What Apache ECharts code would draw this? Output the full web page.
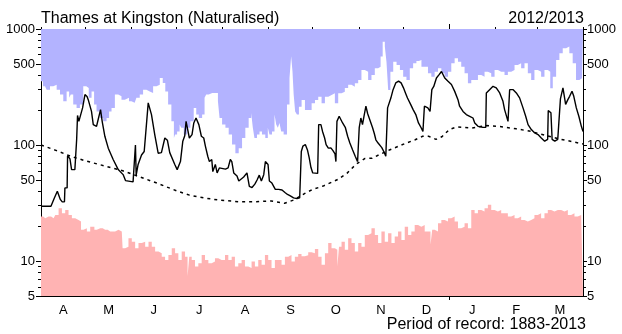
<!DOCTYPE html>
<html>
<head>
<meta charset="utf-8">
<title>Thames at Kingston (Naturalised) 2012/2013</title>
<script src="https://cdn.jsdelivr.net/npm/echarts@6/dist/echarts.min.js"></script>
<style>
  html, body { margin: 0; padding: 0; background: #fff; }
  #chart { width: 622px; height: 334px; }
</style>
</head>
<body>
<div id="chart"></div>
<script>
// Water year April 2012 - March 2013, x = day of the water year (0 = 1 April)
const monthLetters = ['A', 'M', 'J', 'J', 'A', 'S', 'O', 'N', 'D', 'J', 'F', 'M'];
const monthStarts = [0, 30, 61, 91, 122, 153, 183, 214, 244, 275, 306, 334, 365];
const yearStart = 275; // 1 January 2013

// Flow axis (m3/s, log scale)
const yMajor = [5, 10, 50, 100, 500, 1000];
const yMinor = [6, 7, 8, 9, 20, 30, 40, 60, 70, 80, 90, 200, 300, 400, 600, 700, 800, 900];

// Daily mean flow for 2012/2013 [day, m3/s]
const dailyFlow = [
  [0,29.7],[6.7,29.7],[9,35],[11,40],[13,34],[14.3,32.4],[15.8,32.4],[16.1,42.7],[17.6,42.7],[17.9,81],
  [19.5,76],[20.3,76],[20.6,61.4],[22.8,61.4],[24,111],[24.6,180],[25.5,160],[26.8,165],[28,209],[29.6,272],
  [31,262],[31.8,246],[34,195],[35.2,150],[37.4,145],[38.5,166],[40.1,202],[41.2,160],[43,119],[45.3,94],
  [48.6,75],[52,61.4],[55.3,55.6],[56.9,49.4],[62,48.1],[63.3,48.1],[63.6,100],[64.1,55],[65.4,68],[67.7,82],
  [69.5,88],[71,150],[72.2,231],[74.4,183],[76.6,123],[78.9,85],[81.1,86],[83.4,115],[85.1,110],[86.7,86],
  [90.1,68],[91.7,61.4],[93.9,72],[95.5,108],[96.8,120],[97.7,160],[98.8,166],[99.9,115],[101.7,123],[102.9,155],
  [104.4,171],[106.3,150],[108,119],[109.6,115],[110.7,98],[112.3,80],[113.4,72],[115,75],[115.7,59],[117.4,68],
  [118.6,57.5],[120.1,63.5],[124.2,62],[126,63.5],[127.5,75],[128.5,72],[129.8,57.5],[132,54],[133.2,49],[136.5,53],
  [138.7,57.5],[140.3,44],[142.1,43],[144,46],[145.5,50],[147,55],[148.4,49],[150,55.5],[151.1,72],[152.9,68],
  [153.8,49],[155.5,47],[157.8,41.5],[160,41.5],[162.3,41],[164.5,38.8],[166,37.5],[167.9,36.4],[170.1,35],[172.4,34.5],
  [174.2,35],[175,35],[175.3,88],[176.4,98],[178,101],[179.5,90],[180.6,78],[181.8,64],[183,57.5],[186.3,57],
  [186.8,57],[187,150],[188.5,150],[189.6,131],[191,115],[192,101],[193.5,94],[195.2,94.5],[196.5,90],[198,84],
  [198.6,72],[199,72],[199.3,160],[200.8,177],[202,171],[203.1,155],[205,141],[206.5,119],[208,104],[209.8,91],
  [211.6,80],[213.2,72],[213.8,72],[214.3,141],[215.4,171],[216.5,150],[217.5,177],[218.8,216],[220,186],[221,171],
  [223.3,141],[224.5,125],[225.5,111],[227,104],[229.5,95],[231,87],[232.2,80],[232.8,80],[233.4,209],[235.6,254],
  [237.1,300],[238.9,343],[240.8,355],[242.5,343],[244.1,311],[245.5,280],[246.8,254],[249,223],[250.6,202],[252.4,183],
  [254.2,155],[256,141],[257.2,131],[257.8,131],[258.2,216],[260.5,209],[262,195],[262.8,195],[263.2,300],[264.5,320],
  [266.3,378],[268.1,404],[269.7,430],[271.9,378],[274.1,354],[276.4,332],[278.6,290],[280.8,246],[281.9,216],[284.2,195],
  [286.4,183],[288.7,177],[290.9,171],[292.1,155],[294.3,145],[295.4,141],[297.6,142],[299.5,142],[299.9,281],[302.1,300],
  [304.4,321],[306.6,311],[308.9,281],[311.1,238],[312.2,202],[314.5,160],[315.2,160],[315.6,300],[318,300],[320.1,281],
  [322.3,255],[324.6,209],[326.4,177],[328,150],[330.2,136],[332.5,127],[334.7,123],[336.9,115],[339.2,108],[341.2,112],
  [341.6,198],[343.4,190],[344.2,112],[346,108],[348,112],[349.2,112],[349.8,250],[351.5,311],[353.3,224],[354.8,246],
  [356,263],[357.6,291],[358.8,263],[360.5,209],[362.2,177],[363.9,145],[365,131]
];

// Long-term daily mean flow [day, m3/s]
const meanFlow = [
  [0,100],[10,90],[20,80],[30,73],[43,66],[55,60],[65,54],[78,47],[92,40],[100,37],
  [110,35],[120,33.5],[133,32.5],[145,32.5],[155,33],[164,31.5],[170,33.5],[174,36],[178,38.5],[183,41.5],
  [190,44.3],[200,50.6],[206,57],[212,68],[218,76.5],[223,77],[229,84],[235,91],[246,104],[252,111],
  [257,119],[261,119],[266,112],[270,118],[275,136],[280,143],[290,140],[300,147],[310,144],[320,138],
  [330,131],[340,121],[350,112],[355,109],[365,102]
];

// Highest daily flow on record for each day [day, m3/s]
const maxFlow = [
  [0,355],[2.7,321],[4.9,300],[7.2,321],[9.4,331],[11.7,300],[13.9,272],[16.1,238],[18.4,290],[19.5,255],
  [20.6,272],[22.8,223],[25.1,209],[27.3,223],[29.6,321],[31.4,310],[32.9,255],[35.2,290],[36.3,223],[38.5,195],
  [40.8,171],[43,160],[45.3,171],[46.4,195],[48.6,209],[50.9,272],[53.1,263],[55.3,246],[57.6,255],[60.9,238],
  [63.1,231],[65.4,255],[67.6,272],[69.9,300],[72.1,290],[74.4,281],[76.6,321],[78.9,331],[81.1,378],[82.9,343],
  [84.5,290],[86.7,223],[88.9,160],[90.1,115],[90.5,123],[92.8,131],[93.9,150],[95,141],[97.3,123],[99.5,141],
  [101.7,160],[104,209],[105.1,183],[107.4,171],[109.6,183],[110.7,255],[111.8,272],[114.1,281],[116.5,281],[118.6,281],
  [119.7,238],[120.8,171],[123.1,150],[125.3,141],[127.5,123],[129.8,101],[132,85],[134.3,94],[136.5,115],[138.7,141],
  [141,171],[142.1,189],[143.2,141],[144.3,115],[146.6,123],[147.7,131],[149.9,123],[152.2,115],[153.3,141],[154.4,123],
  [156.7,131],[157.8,183],[159,150],[160,141],[161.2,155],[162.3,131],[164.5,123],[166.8,223],[167.9,378],[169,582],
  [169.7,432],[170.6,272],[171.7,195],[173,183],[174.4,214],[176.6,245],[178.9,200],[181.1,200],[183.4,229],[185.6,245],
  [187.8,261],[190.1,229],[192.3,261],[194.6,270],[196.8,279],[199,229],[201.3,279],[203.5,288],[205.7,310],[208,330],
  [210.2,318],[212.5,340],[214.7,364],[216.9,443],[219.2,429],[221.4,364],[223.7,402],[225.9,458],[228.1,473],[229.3,578],
  [230.9,778],[232.2,705],[233.1,523],[234.5,298],[236.1,429],[238.3,523],[240.6,490],[242.8,443],[245,388],[247.2,364],
  [249.5,458],[251.7,506],[253.9,530],[255.1,541],[257.3,473],[259.5,473],[261.7,415],[264,388],[266.2,429],[268.5,458],
  [270.7,415],[273,388],[275.2,429],[277.4,506],[279.7,559],[281.9,523],[284.1,473],[286.4,415],[288.6,340],[290.9,364],
  [293.1,364],[295.4,402],[297.6,388],[299.8,429],[302.1,415],[304.3,388],[306.6,443],[308.8,429],[311,429],[313.3,402],
  [315.5,429],[317.8,443],[320,490],[322.2,506],[324.5,458],[326.7,506],[329,415],[331.2,364],[333.4,443],[335.7,429],
  [337.9,388],[340.2,443],[342.4,429],[343.5,308],[345.8,388],[348,541],[350.2,617],[352.5,681],[354.7,705],[356.9,617],
  [359.2,506],[361.4,364],[363.7,376],[365,376]
];

// Lowest daily flow on record for each day [day, m3/s]
const minFlow = [
  [0,24.2],[2.9,23.4],[5.1,24.2],[8.5,23.4],[10.7,25],[13,28.5],[15.2,25.8],[17.4,27.6],[19.7,25],[21.9,23.4],
  [24.2,22.6],[26.4,21.9],[27.5,18.6],[29.8,19.2],[32,18],[34.3,19.8],[37.6,18.6],[39.9,19.2],[43.2,18.6],[46.6,18],
  [49.9,18],[52.2,18.6],[54.4,18],[55.5,12.9],[57.8,13.3],[60,15.7],[62.3,14.7],[64.5,12.9],[66.8,14.3],[69,14.7],
  [71.3,13.3],[73.5,14.7],[75.7,13.3],[78,12.1],[80.2,11.7],[82.4,10.9],[84.7,10.2],[86.9,11.3],[89.2,12.9],[91.4,11.7],
  [93.6,10.2],[95.9,12.1],[98.1,10.9],[99.3,7.4],[100.4,10.9],[102.6,10.2],[104.8,9],[107.1,9.6],[109.3,11.3],[111.6,10.2],
  [113.8,9.6],[116,9.9],[118.3,10.6],[120.5,10.2],[122.8,10.2],[125,11.3],[127.3,10.2],[129.5,10.9],[131.7,9],[134,9.6],
  [136.2,10.2],[138.5,9],[140.7,8.7],[142.9,9.9],[145.2,9],[147.4,10.2],[149.7,9.3],[151.9,11.3],[154.1,10.2],[156.4,8.7],
  [158.6,10.2],[160.9,10.2],[163.1,9.3],[165.4,10.9],[167.6,11.3],[169.8,9.9],[172.1,10.9],[174.3,11.5],[176.6,11],[178.8,11.2],
  [181.1,11.9],[183.3,11.7],[185.6,12.7],[187.8,10.9],[190.1,9.3],[192.3,11.7],[194.5,14.3],[196.8,12.9],[199,12.5],[200.1,9],
  [201.3,13.3],[203.5,14.7],[205.7,12.5],[208,15.7],[210.2,14.3],[212.5,12.1],[214.7,14.3],[216.9,13.3],[219.2,16.8],[221.4,17.4],
  [223.7,19.2],[225.9,16.8],[228.1,14.3],[230.4,18],[232.6,14.7],[234.9,17.4],[237.1,14.3],[239.3,16.3],[241.6,18],[243.8,15.2],
  [246.1,19.8],[248.3,16.8],[250.5,18],[252.8,20.5],[255,19.8],[257.3,20.5],[259.5,18],[261.7,18],[262.9,13.8],[264,18.6],
  [266.2,18],[268.5,21.2],[270.7,22.6],[273,21.9],[275.2,23.4],[277.4,24.2],[279.7,21.9],[281.9,19.2],[284.1,19.8],[286.4,21.2],
  [288.6,19.2],[290.9,27.6],[293.1,25.8],[295.4,27.6],[297.6,26.7],[299.8,28.5],[302.1,30.5],[304.3,27.6],[306.6,26.7],[308.8,27.6],
  [311,25.8],[313.3,25.8],[315.5,24.2],[317.8,25],[320,23.4],[322.2,24.2],[324.5,22.6],[326.7,21.9],[329,22.6],[331.2,23.4],
  [333.4,25],[335.7,25.8],[337.9,23.4],[340.2,25.8],[342.4,27.6],[344.7,26.7],[346.9,27.6],[349.2,27.6],[351.4,26.7],[353.7,27.6],
  [355.9,25],[358.1,25.8],[360.4,24.2],[362.6,25],[365,24.2]
];

const FONT = '"Liberation Sans", Arial, Helvetica, sans-serif';
const INK = '#000';

// label positions in the middle of each month
const monthMid = monthLetters.map((_, i) => (monthStarts[i] + monthStarts[i + 1]) / 2);
function monthLabel(v) {
  let best = 0;
  monthMid.forEach((m, i) => { if (Math.abs(m - v) < Math.abs(monthMid[best] - v)) best = i; });
  return monthLetters[best];
}
// plain numbers on the flow axis, no thousands separator
const flowLabel = (v) => String(Math.round(v));

const baseX = { type: 'value', min: 0, max: 365, splitLine: { show: false } };
const baseY = { type: 'log', logBase: 10, min: 5, max: 1000, splitLine: { show: false } };
const line = { color: INK, width: 1 };
const labelStyle = { color: INK, fontSize: 13, fontFamily: FONT };

const chart = echarts.init(document.getElementById('chart'));
chart.setOption({
  animation: false,
  backgroundColor: '#fff',
  grid: { left: 41, right: 39, top: 29, bottom: 38, containLabel: false },
  xAxis: [
    { ...baseX, position: 'bottom',
      axisLine: { show: true, onZero: false, lineStyle: line },
      axisTick: { show: true, inside: true, length: 3, customValues: monthStarts, lineStyle: line },
      axisLabel: { ...labelStyle, margin: 8, customValues: monthMid, formatter: monthLabel } },
    { ...baseX, position: 'top',
      axisLine: { show: true, onZero: false, lineStyle: line },
      axisTick: { show: true, inside: false, length: 2, customValues: monthStarts, lineStyle: line },
      axisLabel: { show: false } },
    { ...baseX, position: 'bottom',
      axisLine: { show: false, onZero: false },
      axisTick: { show: true, inside: false, length: 4, customValues: [yearStart], lineStyle: line },
      axisLabel: { show: false } },
    { ...baseX, position: 'top',
      axisLine: { show: false, onZero: false },
      axisTick: { show: true, inside: false, length: 5, customValues: [yearStart], lineStyle: line },
      axisLabel: { show: false } }
  ],
  yAxis: [
    { ...baseY, position: 'left',
      axisLine: { show: true, onZero: false, lineStyle: line },
      axisTick: { show: true, length: 5, customValues: yMajor, lineStyle: line },
      axisLabel: { ...labelStyle, margin: 6, customValues: yMajor, formatter: flowLabel } },
    { ...baseY, position: 'left',
      axisLine: { show: false, onZero: false },
      axisTick: { show: true, length: 3, customValues: yMinor, lineStyle: line },
      axisLabel: { show: false } },
    { ...baseY, position: 'right',
      axisLine: { show: true, onZero: false, lineStyle: line },
      axisTick: { show: true, length: 4, customValues: yMajor, lineStyle: line },
      axisLabel: { ...labelStyle, margin: 4, customValues: yMajor, formatter: flowLabel } },
    { ...baseY, position: 'right',
      axisLine: { show: false, onZero: false },
      axisTick: { show: true, length: 3, customValues: yMinor, lineStyle: line },
      axisLabel: { show: false } }
  ],
  graphic: [
    { type: 'text', x: 41, y: 19, silent: true,
      style: { text: 'Thames at Kingston (Naturalised)', fill: INK, font: '16px ' + FONT, verticalAlign: 'middle', align: 'left' } },
    { type: 'text', x: 584, y: 19, silent: true,
      style: { text: '2012/2013', fill: INK, font: '16px ' + FONT, verticalAlign: 'middle', align: 'right' } },
    { type: 'text', x: 586, y: 325, silent: true,
      style: { text: 'Period of record: 1883-2013', fill: INK, font: '16px ' + FONT, verticalAlign: 'middle', align: 'right' } }
  ],
  series: [
    { name: 'Maximum', type: 'line', xAxisIndex: 0, yAxisIndex: 0, data: maxFlow, step: 'middle',
      symbol: 'none', silent: true, lineStyle: { width: 0, opacity: 0 },
      areaStyle: { color: '#b3b3ff', opacity: 1, origin: 'end' } },
    { name: 'Minimum', type: 'line', xAxisIndex: 0, yAxisIndex: 0, data: minFlow, step: 'middle',
      symbol: 'none', silent: true, lineStyle: { width: 0, opacity: 0 },
      areaStyle: { color: '#ffb3b3', opacity: 1, origin: 'start' } },
    { name: 'Mean', type: 'line', xAxisIndex: 0, yAxisIndex: 0, data: meanFlow,
      symbol: 'none', silent: true, lineStyle: { color: INK, width: 1.5, type: [3, 4] } },
    { name: 'Flow', type: 'line', xAxisIndex: 0, yAxisIndex: 0, data: dailyFlow,
      symbol: 'none', silent: true, lineStyle: { color: INK, width: 1.4 } }
  ]
});
</script>
</body>
</html>
